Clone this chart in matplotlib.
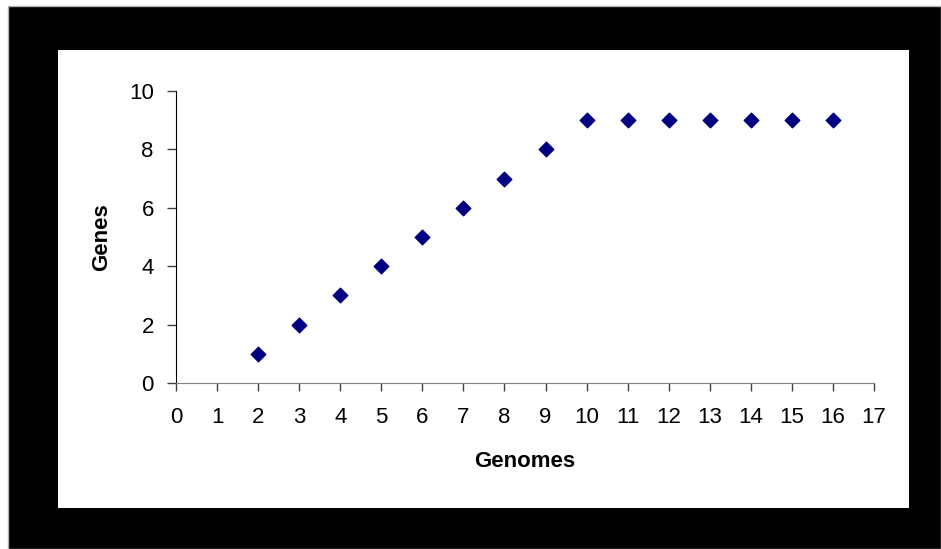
import matplotlib.pyplot as plt
from matplotlib.patches import Rectangle

# genes found vs number of genomes sampled
genomes = [2, 3, 4, 5, 6, 7, 8, 9, 10, 11, 12, 13, 14, 15, 16]
genes = [1, 2, 3, 4, 5, 6, 7, 8, 9, 9, 9, 9, 9, 9, 9]
x_ticks = list(range(0, 18))
y_ticks = [0, 2, 4, 6, 8, 10]

W, H = 941, 549
plt.rcParams['font.family'] = ['Liberation Sans', 'DejaVu Sans']

fig = plt.figure(figsize=(W / 100, H / 100), dpi=100)
fig.patch.set_facecolor('white')

# black frame with white plot area inside (kept under the axes)
fig.patches.append(Rectangle((8 / W, 0), (W - 8) / W, (H - 6) / H,
                             transform=fig.transFigure, facecolor='black',
                             edgecolor='#b0b0b0', linewidth=1, zorder=-2))
fig.patches.append(Rectangle((58 / W, (H - 508) / H), (909 - 58) / W, (508 - 50) / H,
                             transform=fig.transFigure, facecolor='white',
                             edgecolor='none', zorder=-1))

ax = fig.add_axes([176 / W, (H - 383) / H, (874 - 176) / W, (383 - 91) / H])
ax.set_facecolor('none')
ax.scatter(genomes, genes, marker='D', s=55, color='#000080', zorder=3, clip_on=False)

ax.set_xlim(0, 17)
ax.set_ylim(0, 10)
ax.set_xticks(x_ticks)
ax.set_yticks(y_ticks)
ax.tick_params(axis='both', labelsize=16, width=1, color='#404040')
ax.tick_params(axis='x', length=6, pad=11)
ax.tick_params(axis='y', length=6.5, pad=9.5)
for s in ['top', 'right']:
    ax.spines[s].set_visible(False)
ax.spines['left'].set_color('black')
ax.spines['bottom'].set_color('#808080')

ax.set_xlabel('Genomes', fontsize=16, fontweight='bold', labelpad=17)
ax.set_ylabel('Genes', fontsize=16, fontweight='bold', labelpad=12)

fig.savefig('out.png', dpi=100)
